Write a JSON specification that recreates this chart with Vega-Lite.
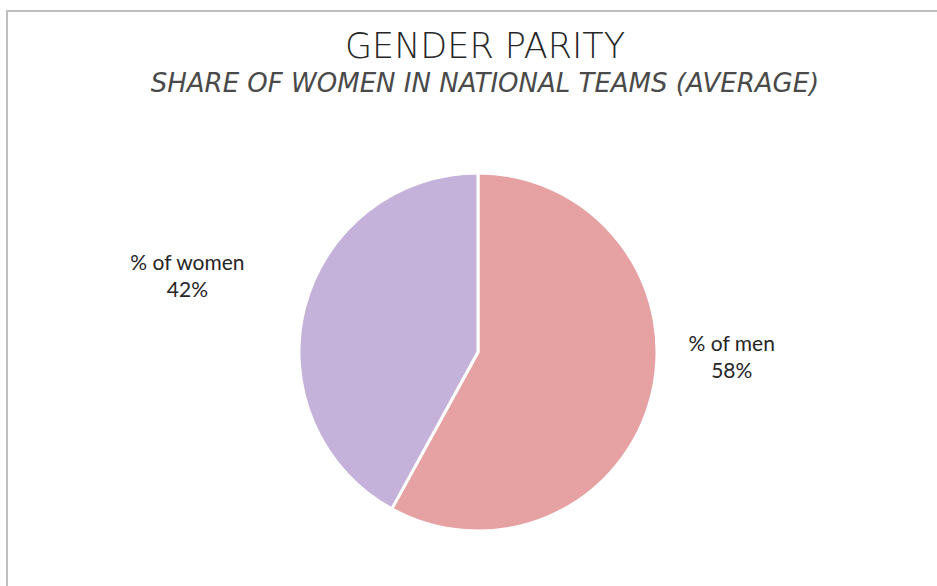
{
  "$schema": "https://vega.github.io/schema/vega-lite/v6.json",
  "width": 942,
  "height": 682,
  "autosize": {"type": "none"},
  "padding": {"left": 7, "top": 11, "right": 0, "bottom": 0},
  "background": "white",
  "view": {"stroke": "#bfbfbf", "strokeWidth": 2},
  "title": {
    "text": "GENDER PARITY",
    "subtitle": "SHARE OF WOMEN IN NATIONAL TEAMS (AVERAGE)",
    "anchor": "middle",
    "orient": "top",
    "offset": -86,
    "dx": 7,
    "font": "DejaVu Sans",
    "fontSize": 35,
    "fontWeight": 200,
    "color": "#262626",
    "subtitleFont": "DejaVu Sans",
    "subtitleFontSize": 26,
    "subtitleFontWeight": 200,
    "subtitleFontStyle": "italic",
    "subtitleColor": "#4a4a4a",
    "subtitlePadding": 6
  },
  "data": {
    "values": [
      {"gender": "men", "share": 58, "label": "% of men\n58%"},
      {"gender": "women", "share": 42, "label": "% of women\n42%"}
    ]
  },
  "encoding": {
    "theta": {"field": "share", "type": "quantitative", "stack": true},
    "color": {
      "field": "gender",
      "type": "nominal",
      "scale": {"domain": ["men", "women"], "range": ["#e6a2a2", "#c4b2db"]},
      "legend": null
    }
  },
  "layer": [
    {
      "mark": {"type": "arc", "outerRadius": 179, "stroke": "white", "strokeWidth": 3}
    },
    {
      "mark": {"type": "text", "font": "Lato", "fontSize": 21, "lineBreak": "\n", "lineHeight": 27, "align": "center", "baseline": "middle", "dy": -13},
      "encoding": {
        "radius": {"value": 300},
        "text": {"condition": {"test": "datum.gender === 'women'", "field": "label"}, "value": ""},
        "color": {"value": "#262626"}
      }
    },
    {
      "mark": {"type": "text", "font": "Lato", "fontSize": 21, "lineBreak": "\n", "lineHeight": 27, "align": "center", "baseline": "middle", "dy": -72},
      "encoding": {
        "radius": {"value": 262},
        "text": {"condition": {"test": "datum.gender === 'men'", "field": "label"}, "value": ""},
        "color": {"value": "#262626"}
      }
    }
  ]
}
